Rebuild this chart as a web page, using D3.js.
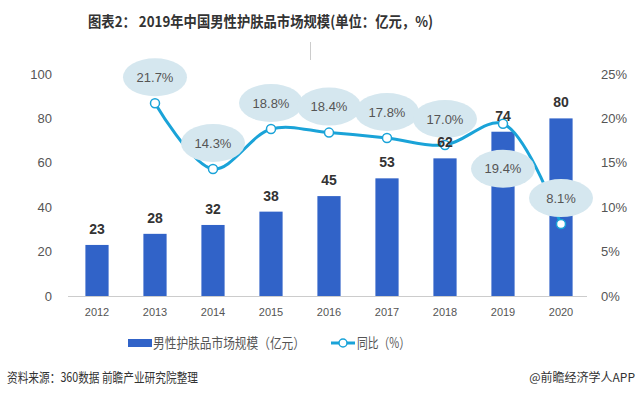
<!DOCTYPE html>
<html>
<head>
<meta charset="utf-8">
<script src="https://cdn.jsdelivr.net/npm/d3@7"></script>
<style>
  body { margin: 0; background: #fff; }
  text { font-family: "Microsoft YaHei", "Noto Sans CJK SC", sans-serif; }
</style>
</head>
<body>
<svg id="chart" width="639" height="396"></svg>
<script>
const years = ["2012", "2013", "2014", "2015", "2016", "2017", "2018", "2019", "2020"];
const marketSize = [23, 28, 32, 38, 45, 53, 62, 74, 80];
const growth = [null, 21.7, 14.3, 18.8, 18.4, 17.8, 17.0, 19.4, 8.1];
const leftTicks = [0, 20, 40, 60, 80, 100];
const rightTicks = [0, 5, 10, 15, 20, 25];
// label placement: above or below the point
const labelBelow = [false, false, false, false, false, false, false, true, false];

const svg = d3.select("#chart");

// title
svg.append("text")
  .attr("x", 88).attr("y", 27)
  .attr("font-size", 15).attr("font-weight", "bold").attr("fill", "#333")
  .attr("textLength", 345).attr("lengthAdjust", "spacingAndGlyphs")
  .text("图表2： 2019年中国男性护肤品市场规模(单位：亿元，%)");

svg.append("line")
  .attr("x1", 310.5).attr("x2", 310.5).attr("y1", 42).attr("y2", 60)
  .attr("stroke", "#ccc");

const x = d3.scaleBand().domain(years).range([68, 590]).paddingInner(0.6).paddingOuter(0.3);
const yL = d3.scaleLinear().domain([0, 100]).range([296, 74]);
const yR = d3.scaleLinear().domain([0, 25]).range([296, 74]);
const cx = (d) => x(d) + x.bandwidth() / 2;

// axes
const axisL = svg.append("g").attr("transform", "translate(52,0)")
  .call(d3.axisLeft(yL).tickValues(leftTicks).tickSize(0).tickPadding(0));
axisL.select(".domain").remove();
axisL.selectAll("text").attr("font-size", 13).attr("fill", "#555")
  .style("font-family", "Arial, 'Liberation Sans', sans-serif");

const axisR = svg.append("g").attr("transform", "translate(601,0)")
  .call(d3.axisRight(yR).tickValues(rightTicks).tickSize(0).tickPadding(0).tickFormat((d) => d + "%"));
axisR.select(".domain").remove();
axisR.selectAll("text").attr("font-size", 13).attr("fill", "#555")
  .style("font-family", "Arial, 'Liberation Sans', sans-serif");

const axisB = svg.append("g").attr("transform", "translate(0,296)")
  .call(d3.axisBottom(x).tickSize(0).tickPadding(12));
axisB.select(".domain").attr("stroke", "#ccc").attr("d", "M68,0.5H587");
axisB.selectAll("text").attr("font-size", 11).attr("fill", "#555")
  .style("font-family", "Arial, 'Liberation Sans', sans-serif");

// bars
svg.append("g").selectAll("rect").data(years).join("rect")
  .attr("x", (d) => x(d))
  .attr("y", (d, i) => yL(marketSize[i]))
  .attr("width", x.bandwidth())
  .attr("height", (d, i) => yL(0) - yL(marketSize[i]))
  .attr("fill", "#3163c8");

// line
const pts = years.map((d, i) => ({ year: d, v: growth[i], below: labelBelow[i] })).filter((d) => d.v !== null);
const line = d3.line().x((d) => cx(d.year)).y((d) => yR(d.v)).curve(d3.curveCatmullRom.alpha(0.5));

svg.append("path").datum(pts).attr("d", line)
  .attr("fill", "none").attr("stroke", "#1aa3d8").attr("stroke-width", 3);

svg.append("g").selectAll("circle").data(pts).join("circle")
  .attr("cx", (d) => cx(d.year)).attr("cy", (d) => yR(d.v)).attr("r", 4.5)
  .attr("fill", "#fff").attr("stroke", "#1aa3d8").attr("stroke-width", 1.5);

// growth labels, drawn over the line
const lbl = svg.append("g").selectAll("g").data(pts).join("g")
  .attr("transform", (d) => `translate(${cx(d.year)},${yR(d.v) + (d.below ? 45 : -26)})`);
lbl.append("ellipse").attr("rx", 32).attr("ry", 19).attr("fill", "#d5e7ef");
lbl.append("text").attr("text-anchor", "middle").attr("dy", "0.36em")
  .attr("font-size", 13).attr("fill", "#555")
  .style("font-family", "Arial, 'Liberation Sans', sans-serif")
  .text((d) => d.v.toFixed(1) + "%");

// bar value labels
svg.append("g").selectAll("text").data(years).join("text")
  .attr("x", (d) => cx(d))
  .attr("y", (d, i) => yL(marketSize[i]) - 11)
  .attr("text-anchor", "middle").attr("font-size", 14).attr("font-weight", "bold").attr("fill", "#333")
  .style("font-family", "Arial, 'Liberation Sans', sans-serif")
  .text((d, i) => marketSize[i]);

// legend
const lg = svg.append("g");
lg.append("rect").attr("x", 128).attr("y", 339).attr("width", 24).attr("height", 8).attr("fill", "#3163c8");
lg.append("text").attr("x", 153).attr("y", 348).attr("font-size", 14).attr("fill", "#555")
  .attr("textLength", 152).attr("lengthAdjust", "spacingAndGlyphs")
  .text("男性护肤品市场规模（亿元）");
lg.append("line").attr("x1", 331).attr("x2", 355).attr("y1", 343).attr("y2", 343)
  .attr("stroke", "#1aa3d8").attr("stroke-width", 3);
lg.append("circle").attr("cx", 343).attr("cy", 343).attr("r", 4)
  .attr("fill", "#fff").attr("stroke", "#1aa3d8").attr("stroke-width", 1.5);
lg.append("text").attr("x", 357).attr("y", 348).attr("font-size", 14).attr("fill", "#555")
  .attr("textLength", 53).attr("lengthAdjust", "spacingAndGlyphs")
  .text("同比（%）");

// footer
svg.append("text").attr("x", 7).attr("y", 382).attr("font-size", 13).attr("fill", "#333")
  .attr("textLength", 191).attr("lengthAdjust", "spacingAndGlyphs")
  .text("资料来源：360数据 前瞻产业研究院整理");
svg.append("text").attr("x", 635).attr("y", 382).attr("text-anchor", "end").attr("font-size", 12).attr("fill", "#333")
  .text("@前瞻经济学人APP");
</script>
</body>
</html>
